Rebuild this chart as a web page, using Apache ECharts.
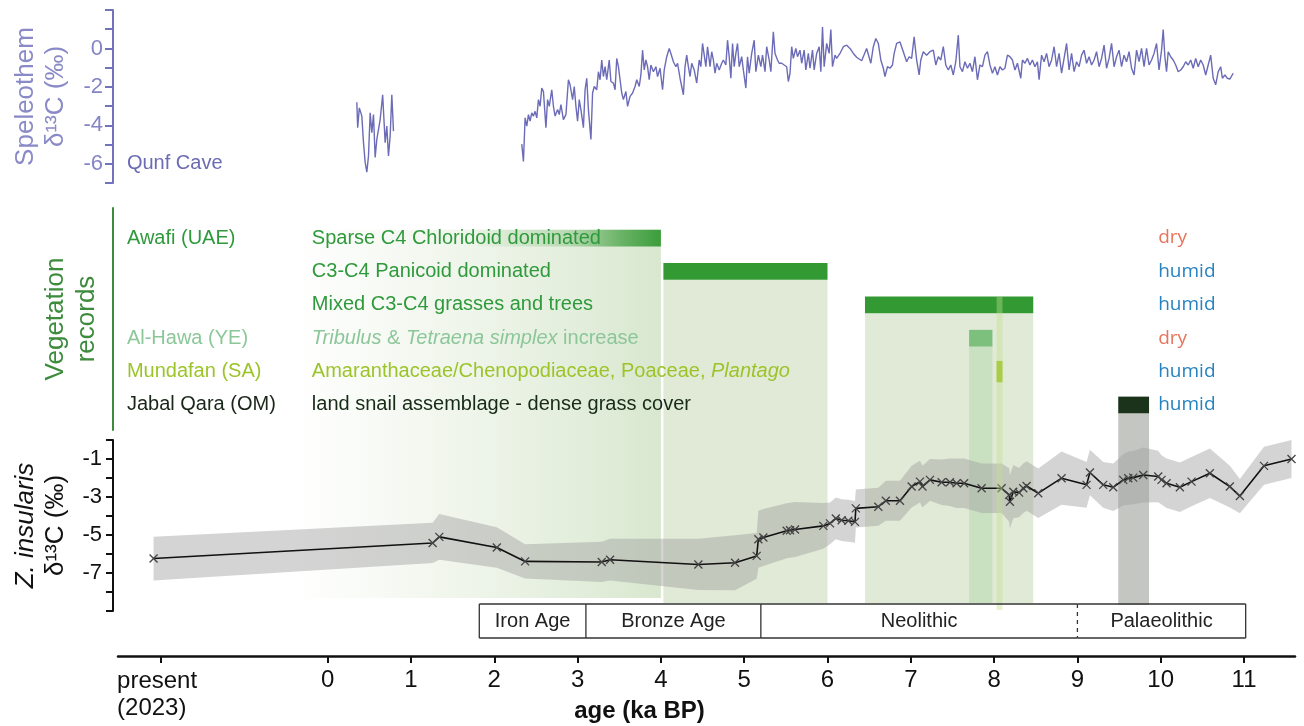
<!DOCTYPE html>
<html><head><meta charset="utf-8">
<script src="https://cdn.jsdelivr.net/npm/echarts@6/dist/echarts.min.js"></script>
<style>html,body{margin:0;padding:0;background:#fff}#c{width:1304px;height:726px}</style>
</head><body><div id="c"></div>
<script>
// ---------------- DATA ----------------
// Qunf Cave speleothem d13C (ka BP, permil), two segments
const qunfAgeA = [0.35,0.36,0.38,0.41,0.43,0.45,0.47,0.49,0.51,0.53,0.55,0.57,0.59,0.63,0.66,0.69,0.71,0.73,0.75,0.77,0.79];
const qunfValA = [-2.80,-4.12,-3.09,-3.52,-4.90,-5.93,-6.44,-5.59,-3.35,-4.38,-3.44,-5.67,-4.73,-3.70,-2.41,-4.90,-4.04,-5.59,-4.56,-2.41,-4.30];
const qunfAgeB = [2.33,2.35,2.37,2.39,2.41,2.43,2.45,2.47,2.49,2.51,2.53,2.55,2.57,2.59,2.62,2.64,2.66,2.69,2.71,2.73,2.76,2.78,2.80,2.83,2.86,2.89,2.91,2.94,2.96,2.98,3.00,3.02,3.04,3.07,3.09,3.11,3.13,3.16,3.18,3.20,3.23,3.25,3.27,3.29,3.31,3.33,3.35,3.38,3.40,3.43,3.45,3.47,3.49,3.51,3.53,3.55,3.58,3.60,3.63,3.66,3.69,3.71,3.74,3.76,3.78,3.80,3.82,3.84,3.86,3.88,3.91,3.94,3.96,3.99,4.02,4.04,4.07,4.10,4.12,4.15,4.18,4.20,4.23,4.25,4.27,4.29,4.31,4.33,4.35,4.37,4.40,4.43,4.46,4.48,4.50,4.52,4.54,4.56,4.59,4.61,4.63,4.65,4.67,4.70,4.73,4.75,4.78,4.80,4.82,4.84,4.86,4.88,4.90,4.92,4.94,4.97,4.99,5.02,5.04,5.06,5.09,5.12,5.14,5.17,5.20,5.22,5.25,5.27,5.30,5.32,5.35,5.37,5.40,5.42,5.45,5.48,5.51,5.53,5.55,5.57,5.59,5.62,5.64,5.67,5.69,5.72,5.74,5.77,5.79,5.82,5.84,5.87,5.90,5.92,5.94,5.96,5.99,6.02,6.04,6.06,6.09,6.11,6.15,6.19,6.23,6.27,6.31,6.35,6.41,6.47,6.52,6.55,6.58,6.61,6.64,6.67,6.69,6.72,6.75,6.78,6.80,6.83,6.87,6.91,6.95,6.98,7.01,7.04,7.07,7.10,7.12,7.15,7.19,7.23,7.27,7.30,7.33,7.36,7.39,7.42,7.45,7.48,7.51,7.54,7.57,7.59,7.62,7.65,7.68,7.71,7.74,7.77,7.80,7.83,7.86,7.89,7.92,7.95,7.98,8.01,8.04,8.07,8.10,8.13,8.16,8.19,8.22,8.25,8.28,8.32,8.34,8.37,8.40,8.43,8.46,8.49,8.52,8.54,8.57,8.60,8.63,8.66,8.69,8.72,8.75,8.78,8.81,8.84,8.87,8.90,8.93,8.96,8.99,9.02,9.05,9.08,9.11,9.14,9.17,9.20,9.23,9.26,9.29,9.32,9.35,9.38,9.41,9.44,9.47,9.50,9.53,9.56,9.59,9.62,9.65,9.68,9.71,9.74,9.77,9.80,9.83,9.86,9.89,9.92,9.95,9.98,10.01,10.03,10.05,10.07,10.09,10.12,10.15,10.18,10.21,10.24,10.27,10.30,10.33,10.36,10.39,10.42,10.45,10.48,10.51,10.54,10.57,10.60,10.63,10.66,10.69,10.72,10.74,10.77,10.80,10.83,10.87];
const qunfValB = [-4.98,-5.88,-3.61,-4.04,-3.44,-3.78,-3.35,-3.52,-3.27,-3.61,-2.66,-3.01,-2.06,-2.24,-4.12,-2.66,-3.01,-2.15,-3.01,-3.52,-3.18,-3.44,-2.92,-3.70,-3.44,-1.63,-1.89,-2.66,-1.98,-3.01,-3.78,-2.66,-3.18,-4.12,-2.15,-1.55,-3.18,-4.73,-2.32,-1.98,-2.15,-1.21,-1.63,-0.60,-1.46,-0.95,-1.63,-0.60,-1.72,-1.80,-2.15,-0.52,-0.95,-1.63,-2.32,-2.66,-2.24,-3.01,-2.49,-2.32,-1.98,-1.63,-1.98,-1.38,-0.09,-1.12,-0.60,-0.95,-1.63,-0.86,-1.21,-0.95,-1.46,-1.03,-2.15,-1.12,-0.43,0.00,-0.26,-0.69,-0.95,-0.77,-1.55,-1.98,-2.41,-0.95,-0.35,-0.95,-1.46,-0.77,-1.12,-1.80,-0.60,-0.95,0.26,0.34,-0.95,0.09,-0.95,-0.17,-0.60,-1.29,-0.77,-1.12,-0.77,-0.60,-0.86,0.43,-0.43,-1.55,0.26,-0.95,-0.26,0.26,-0.95,-0.43,-1.12,-2.06,-0.43,-1.29,-0.26,0.43,-1.21,-0.35,-0.95,-0.35,-1.21,0.09,-0.60,-1.21,0.86,-0.26,-0.60,-0.77,-0.77,-0.86,-0.95,-1.72,-1.29,0.09,-0.52,0.00,-0.43,-0.09,-0.77,-0.09,-1.12,-0.26,-1.03,-0.09,-1.12,-0.26,0.09,-1.21,1.11,-0.95,0.26,-0.26,0.98,-0.95,-0.35,-0.52,-0.26,0.09,0.17,0.00,-0.26,-0.46,-0.64,0.00,-0.77,0.09,0.52,0.26,-0.60,-1.03,-1.46,-0.95,-1.03,-0.86,-0.26,0.26,0.34,-0.17,-0.69,-0.43,-0.52,0.60,-0.60,-1.38,-0.60,-0.17,-0.35,-0.17,-0.09,-0.86,-0.43,-0.60,0.09,-0.86,-1.12,-0.86,-1.38,-0.69,0.69,-0.95,-1.21,-0.69,-1.03,-0.77,-1.21,-0.43,-1.63,-0.86,-0.95,-0.35,-0.17,-0.86,-1.29,-0.95,-1.38,-0.95,-1.12,-1.03,-0.35,-0.43,-0.60,-1.12,-0.77,-1.55,-0.60,-0.77,-0.52,-0.86,-0.60,-0.95,-0.69,-1.63,-0.35,-0.69,-0.26,-0.95,-0.60,0.09,-0.95,-0.26,-1.29,-0.52,0.26,-1.12,-0.26,-1.21,-0.69,-0.95,-0.35,-0.09,-0.77,-0.43,-0.86,-0.60,-0.17,-0.95,-0.52,0.17,-1.03,-0.52,0.26,-0.95,-0.43,-0.09,-0.95,-0.35,-0.69,-0.17,-1.03,-1.38,-0.09,-0.69,0.00,-0.95,0.00,-0.86,-0.60,-0.26,0.26,-1.12,-0.09,0.98,-0.43,-1.21,-0.17,-0.43,-0.60,-0.86,-1.21,-1.12,-0.95,-0.69,-0.86,-0.60,-1.03,-0.52,-0.95,-0.60,-0.86,-1.38,-0.86,-0.35,-1.55,-1.89,-1.21,-0.95,-1.55,-1.38,-1.55,-1.60,-1.29];

// Z. insularis d13C (ka BP, permil) with uncertainty half-width
const zAge = [-2.09,1.26,1.34,2.03,2.37,3.29,3.39,4.45,4.89,5.15,5.17,5.23,5.51,5.55,5.61,5.95,6.03,6.10,6.17,6.25,6.33,6.34,6.61,6.70,6.87,7.01,7.11,7.14,7.23,7.37,7.47,7.55,7.64,7.85,8.09,8.18,8.19,8.23,8.30,8.35,8.39,8.53,8.81,9.11,9.15,9.31,9.43,9.55,9.61,9.67,9.79,9.97,10.01,10.07,10.23,10.37,10.59,10.83,10.95,11.24,11.57];
const zVal = [-6.24,-5.42,-5.10,-5.66,-6.39,-6.42,-6.30,-6.55,-6.46,-6.10,-5.22,-5.13,-4.78,-4.75,-4.71,-4.52,-4.39,-4.13,-4.22,-4.25,-4.31,-3.60,-3.51,-3.20,-3.20,-2.45,-2.19,-2.45,-2.10,-2.22,-2.22,-2.28,-2.28,-2.54,-2.54,-2.89,-3.25,-2.72,-2.77,-2.54,-2.42,-2.80,-2.01,-2.36,-1.71,-2.36,-2.49,-2.10,-2.01,-1.98,-1.84,-1.92,-2.10,-2.28,-2.49,-2.19,-1.75,-2.45,-2.95,-1.36,-1.00];
const zErr = [1.15,1.06,1.20,1.07,0.90,1.06,1.10,1.35,1.45,1.20,1.50,1.50,1.45,1.45,1.45,1.20,1.10,1.10,1.10,1.10,1.10,1.00,1.00,1.05,1.05,1.10,1.10,1.10,1.10,1.20,1.25,1.30,1.30,1.30,1.30,1.40,1.40,1.40,1.30,1.30,1.30,1.30,1.40,1.20,1.20,1.20,1.25,1.35,1.40,1.40,1.45,1.35,1.30,1.30,1.30,1.30,1.30,1.10,0.90,1.00,1.00];

// Vegetation records (rows 1..6)
const vegRows = [1,2,3,4,5,6];
const siteNames = ['Awafi (UAE)','','','Al-Hawa (YE)','Mundafan (SA)','Jabal Qara (OM)'];
const vegDescriptions = ['Sparse C4 Chloridoid dominated','C3-C4 Panicoid dominated','Mixed C3-C4 grasses and trees','{i|Tribulus} & {i|Tetraena simplex} increase','Amaranthaceae/Chenopodiaceae, Poaceae, {i|Plantago}','land snail assemblage - dense grass cover'];
const climate = ['dry','humid','humid','dry','humid','humid'];
const vegStart = [1.8,4.03,6.45,7.70,8.03,9.49];
const vegEnd = [4.0,6.0,8.47,7.98,8.10,9.86];
// shaded columns (extent in vegetation-row units)
const shadeStart = [-0.4,4.03,6.45,7.70,9.49];
const shadeEnd = [4.0,6.0,8.47,7.98,9.86];
const shadeTop = [0.75,2.25,3.25,4.25,6.25];
const shadeBottom = [11.78,11.93,11.93,11.93,11.99];
const stripeStart = [8.03], stripeEnd = [8.10], stripeTop = [2.75], stripeBottom = [12.14];

// Archaeological periods
const periodNames = ['Iron Age','Bronze Age','Neolithic','Palaeolithic'];
const periodStart = [1.82,3.10,5.20,9.00];
const periodEnd = [3.10,5.20,9.00,11.02];

// x-axis ticks
const xTickValues = [-2,0,1,2,3,4,5,6,7,8,9,10,11];
const xTickLabels = ['present\n(2023)','0','1','2','3','4','5','6','7','8','9','10','11'];

// ---------------- STYLE ----------------
const FF = '"Liberation Sans", Arial, Helvetica, sans-serif';
const X_MIN = -2.517, X_MAX = 11.612;
const rowTextColors = ['#2f9a3c','#2f9a3c','#2f9a3c','#8cc79a','#9cc42a','#1a261a'];
const descColors = ['#2f9a3c','#2f9a3c','#2f9a3c','#8cc79a','#9cc42a','#172b17'];
const climateColors = {dry:'#e8735a', humid:'#2583c0'};
const barColors = ['#339933','#339933','#339933','#7dbf7d','#99c21a','#1a331a'];
const shadeColors = [null,'#e0ead6','#e0ead6','rgba(180,215,172,0.5)','rgba(115,120,110,0.42)'];

const chart = echarts.init(document.getElementById('c'), null, {renderer:'canvas'});

const hiddenX = i => ({type:'value', gridIndex:i, min:X_MIN, max:X_MAX, show:false});

const option = {
  animation:false,
  backgroundColor:'#fff',
  grid:[
    {left:118,right:9,top:10,height:173},
    {left:118,right:9,top:208,height:222},
    {left:118,right:9,top:440,height:171},
    {left:118,right:9,top:604,height:34},
    {left:118,right:9,top:650,height:6}
  ],
  xAxis:[hiddenX(0),hiddenX(1),hiddenX(2),hiddenX(3),
    {type:'value',gridIndex:4,min:X_MIN,max:X_MAX,
     axisLine:{show:true,onZero:false,lineStyle:{color:'#111',width:2.5}},
     axisTick:{show:true,customValues:xTickValues,length:7,lineStyle:{color:'#111',width:2}},
     axisLabel:{customValues:xTickValues,margin:12,color:'#111',fontSize:24,fontFamily:FF,
       formatter:v=>{const i=xTickValues.indexOf(v); if(i<0) return ''; return i===0?'{p|present}\n{p|(2023)}':xTickLabels[i];},
       rich:{p:{width:88,align:'left',fontSize:24,lineHeight:27,fontFamily:FF,color:'#111'}}},
     splitLine:{show:false},
     name:'age (ka BP)',nameLocation:'middle',nameGap:43,nameMoveOverlap:false,
     nameTextStyle:{fontSize:24,fontWeight:'bold',color:'#111',fontFamily:FF,padding:[0,134,0,0],verticalAlign:'top'}
    }
  ],
  yAxis:[
    {type:'value',gridIndex:0,min:-7,max:2,interval:1,offset:5,nameMoveOverlap:false,
     axisLine:{show:true,onZero:false,lineStyle:{color:'#7373bb',width:2}},
     axisTick:{show:true,length:8,lineStyle:{color:'#7373bb',width:2}},
     axisLabel:{margin:10,color:'#8484c6',fontSize:22,fontFamily:FF,formatter:v=>(v%2===0&&v<=0)?String(v):''},
     splitLine:{show:false},
     name:'Speleothem\nδ¹³C (‰)',nameLocation:'middle',nameRotate:90,nameGap:42,
     nameTextStyle:{color:'#8a8ac8',fontSize:26,lineHeight:30,fontFamily:FF}},
    {type:'value',gridIndex:1,min:0.1,max:6.75,inverse:true,offset:5,nameMoveOverlap:false,
     axisLine:{show:true,onZero:false,lineStyle:{color:'#3d8b3d',width:2}},
     axisTick:{show:false},axisLabel:{show:false},splitLine:{show:false},
     name:'Vegetation\nrecords',nameLocation:'middle',nameRotate:90,nameGap:11,
     nameTextStyle:{color:'#3d8b3d',fontSize:26,lineHeight:31,fontFamily:FF}},
    {type:'value',gridIndex:2,min:-9,max:0,interval:1,offset:5,nameMoveOverlap:false,
     axisLine:{show:true,onZero:false,lineStyle:{color:'#111',width:2}},
     axisTick:{show:true,length:7,lineStyle:{color:'#111',width:2}},
     axisLabel:{margin:11,color:'#111',fontSize:22,fontFamily:FF,formatter:v=>(Math.abs(v%2)===1&&v>-9)?String(v):''},
     splitLine:{show:false},
     name:'{i|Z. insularis}\nδ¹³C (‰)',nameLocation:'middle',nameRotate:90,nameGap:42,
     nameTextStyle:{color:'#111',fontSize:26,lineHeight:30,fontFamily:FF,
       rich:{i:{fontStyle:'italic',fontSize:26,fontFamily:FF,color:'#111',lineHeight:30}}}},
    {type:'value',gridIndex:3,min:0,max:1,show:false},
    {type:'value',gridIndex:4,min:0,max:1,show:false}
  ],
  series:[]
};

// Shaded columns behind records
option.series.push({
  type:'custom',xAxisIndex:1,yAxisIndex:1,z:1,clip:false,silent:true,
  encode:{x:[0,2],y:[1,3]},
  data:shadeStart.map((s,i)=>[s,shadeTop[i],shadeEnd[i],shadeBottom[i],i]),
  renderItem:(params,api)=>{
    const i=api.value(4);
    const p0=api.coord([api.value(0),api.value(1)]);
    const p1=api.coord([api.value(2),api.value(3)]);
    let fill=shadeColors[i];
    if(i===0){
      fill=new echarts.graphic.LinearGradient(0,0,1,0,[
        {offset:0,color:'rgba(222,234,212,0)'},
        {offset:0.35,color:'rgba(222,234,212,0.35)'},
        {offset:1,color:'rgba(214,230,204,0.95)'}]);
    }
    return {type:'rect',shape:{x:p0[0],y:p0[1],width:p1[0]-p0[0],height:p1[1]-p0[1]},style:{fill:fill}};
  }
});

// Uncertainty band of Z. insularis
option.series.push({
  type:'custom',xAxisIndex:2,yAxisIndex:2,z:2,silent:true,clip:false,
  data:[[zAge[0],zVal[0]]],
  renderItem:(params,api)=>{
    const up=zAge.map((a,i)=>api.coord([a,zVal[i]+zErr[i]]));
    const lo=zAge.map((a,i)=>api.coord([a,zVal[i]-zErr[i]])).reverse();
    return {type:'polygon',shape:{points:up.concat(lo)},style:{fill:'rgba(160,160,160,0.45)'}};
  }
});

// Vegetation record bars
option.series.push({
  type:'custom',xAxisIndex:1,yAxisIndex:1,z:3,clip:false,silent:true,
  encode:{x:[0,2],y:1},
  data:vegRows.map((r,i)=>[vegStart[i],r,vegEnd[i],i]),
  renderItem:(params,api)=>{
    const i=api.value(3), r=api.value(1), h=(i===4)?0.32:0.25;
    const p0=api.coord([api.value(0),r-h]);
    const p1=api.coord([api.value(2),r+h]);
    let fill=barColors[i];
    if(i===0){
      fill=new echarts.graphic.LinearGradient(0,0,1,0,[
        {offset:0,color:'rgba(51,153,51,0.03)'},
        {offset:0.5,color:'rgba(51,153,51,0.25)'},
        {offset:0.8,color:'rgba(51,153,51,0.7)'},
        {offset:1,color:'rgba(51,153,51,0.95)'}]);
    }
    return {type:'rect',shape:{x:p0[0],y:p0[1],width:p1[0]-p0[0],height:p1[1]-p0[1]},style:{fill:fill}};
  }
});

// Mundafan stripe
option.series.push({
  type:'custom',xAxisIndex:1,yAxisIndex:1,z:6,clip:false,silent:true,
  encode:{x:[0,2],y:[1,3]},
  data:stripeStart.map((s,i)=>[s,stripeTop[i],stripeEnd[i],stripeBottom[i]]),
  renderItem:(params,api)=>{
    const p0=api.coord([api.value(0),api.value(1)]);
    const p1=api.coord([api.value(2),api.value(3)]);
    return {type:'rect',shape:{x:p0[0],y:p0[1],width:p1[0]-p0[0],height:p1[1]-p0[1]},style:{fill:'rgba(195,222,140,0.4)'}};
  }
});

// Speleothem lines
[[qunfAgeA,qunfValA],[qunfAgeB,qunfValB]].forEach(([ag,vl])=>{
  option.series.push({type:'line',xAxisIndex:0,yAxisIndex:0,z:4,symbol:'none',silent:true,
    data:ag.map((a,i)=>[a,vl[i]]),lineStyle:{color:'#6b6bb8',width:1.4}});
});

const textSeries = (xa, ya, data, label) => ({type:'scatter',xAxisIndex:xa,yAxisIndex:ya,symbolSize:0,z:7,silent:true,
  itemStyle:{opacity:1},data:data,label:Object.assign({show:true,position:'right',distance:0,opacity:1},label)});

// Qunf Cave label
option.series.push(textSeries(0,0,[[-2.41,-6.0]],{formatter:'Qunf Cave',color:'#6b6bb5',fontSize:20,fontFamily:FF}));

// Z. insularis line with x markers
option.series.push({type:'line',xAxisIndex:2,yAxisIndex:2,z:5,silent:true,
  data:zAge.map((a,i)=>[a,zVal[i]]),
  symbol:'path://M0,0L10,10M10,0L0,10',symbolSize:8,showAllSymbol:true,
  itemStyle:{color:'#444',borderColor:'#444',borderWidth:1.3},
  lineStyle:{color:'#111',width:1.6}});

// Vegetation text
option.series.push(textSeries(1,1,vegRows.map((r,i)=>({value:[-2.41,r],label:{color:rowTextColors[i]}})),
  {fontSize:20,fontFamily:FF,formatter:p=>siteNames[p.dataIndex]}));
option.series.push(textSeries(1,1,vegRows.map((r,i)=>({value:[-0.19,r],label:{color:descColors[i],
    rich:{i:{fontStyle:'italic',color:descColors[i],fontSize:20,fontFamily:FF}}}})),
  {fontSize:20,fontFamily:FF,formatter:p=>vegDescriptions[p.dataIndex]}));
option.series.push(textSeries(1,1,vegRows.map((r,i)=>({value:[9.97,r],label:{color:climateColors[climate[i]]}})),
  {fontSize:19,fontFamily:'"Open Sans", "Noto Sans", sans-serif',formatter:p=>climate[p.dataIndex]}));

// Periods box
option.series.push({
  type:'custom',xAxisIndex:3,yAxisIndex:3,z:8,silent:true,clip:false,
  encode:{x:[0,1]},
  data:periodNames.map((n,i)=>[periodStart[i],periodEnd[i],i]),
  renderItem:(params,api)=>{
    const i=api.value(2);
    const a=api.coord([api.value(0),1]), b=api.coord([api.value(1),0]);
    const st={stroke:'#333',lineWidth:1.3};
    const ch=[
      {type:'line',shape:{x1:a[0],y1:a[1],x2:b[0],y2:a[1]},style:st},
      {type:'line',shape:{x1:a[0],y1:b[1],x2:b[0],y2:b[1]},style:st},
      {type:'line',shape:{x1:a[0],y1:a[1],x2:a[0],y2:b[1]},style:periodNames[i]==='Palaeolithic'?{stroke:'#333',lineWidth:1.3,lineDash:[4,4]}:st},
      {type:'text',x:(a[0]+b[0])/2,y:(a[1]+b[1])/2,style:{text:periodNames[i],fill:'#222',font:'20px '+FF,align:'center',verticalAlign:'middle'}}
    ];
    if(i===periodNames.length-1) ch.push({type:'line',shape:{x1:b[0],y1:a[1],x2:b[0],y2:b[1]},style:st});
    return {type:'group',children:ch};
  }
});

chart.setOption(option);
</script>
</body></html>
